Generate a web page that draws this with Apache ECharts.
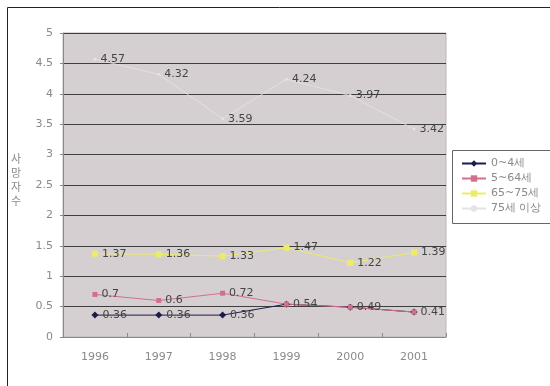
<!DOCTYPE html>
<html>
<head>
<meta charset="utf-8">
<script src="https://cdn.jsdelivr.net/npm/echarts@6/dist/echarts.min.js"></script>
<style>
  html, body { margin: 0; padding: 0; background: #fff; }
  #chart { width: 550px; height: 386px; }
</style>
</head>
<body>
<div id="chart"></div>
<script>
// Years on the category axis
const years = ['1996', '1997', '1998', '1999', '2000', '2001'];

// Death rate by age group
const age0to4 = [0.36, 0.36, 0.36, 0.54, 0.49, 0.41];
const age5to64 = [0.7, 0.6, 0.72, 0.54, 0.49, 0.41];
const age65to75 = [1.37, 1.36, 1.33, 1.47, 1.22, 1.39];
const age75plus = [4.57, 4.32, 3.59, 4.24, 3.97, 3.42];

const seriesNames = ['0~4세', '5~64세', '65~75세', '75세 이상'];
const yTicks = ['0', '0.5', '1', '1.5', '2', '2.5', '3', '3.5', '4', '4.5', '5'];

const labelStyle = {
  show: true,
  position: 'right',
  distance: 4,
  color: '#444',
  fontSize: 11,
  fontFamily: 'DejaVu Sans',
  formatter: p => String(p.value)
};

function lineSeries(name, data, color, symbol, size, width) {
  return {
    name: name,
    type: 'line',
    data: data,
    symbol: symbol,
    symbolSize: size,
    lineStyle: { color: color, width: width },
    itemStyle: { color: color },
    label: labelStyle,
    animation: false
  };
}

// Where the youngest group meets the 5~64 line, its value is already printed by that line
const youngest = lineSeries(seriesNames[0], age0to4, '#1c1c4c', 'diamond', 7, 1);
youngest.data = age0to4.map((v, i) => (v === age5to64[i] ? { value: v, label: { show: false } } : v));

const chart = echarts.init(document.getElementById('chart'));
chart.setOption({
  animation: false,
  grid: { left: 63, top: 33, width: 383, height: 304, show: true,
          backgroundColor: '#d6cfd2', borderColor: '#b8b4b6', borderWidth: 1 },
  xAxis: {
    type: 'category',
    data: years,
    boundaryGap: true,
    axisLine: { lineStyle: { color: '#8a8a8a' } },
    axisTick: { show: true, inside: true, length: 4, lineStyle: { color: '#8a8a8a' } },
    axisLabel: { color: '#8a8a8a', fontSize: 11, fontFamily: 'DejaVu Sans', margin: 15 }
  },
  yAxis: {
    type: 'value',
    min: 0, max: 5, interval: 0.5,
    axisLine: { show: true, lineStyle: { color: '#8a8a8a' } },
    axisTick: { show: true, length: 3, lineStyle: { color: '#8a8a8a' } },
    axisLabel: { color: '#8a8a8a', fontSize: 11, fontFamily: 'DejaVu Sans', margin: 10,
                 formatter: v => yTicks[Math.round(v * 2)] },
    splitLine: { lineStyle: { color: '#3e3e3e', width: 1 } }
  },
  legend: {
    orient: 'vertical',
    left: 456, top: 153,
    itemGap: 4,
    itemWidth: 24, itemHeight: 8,
    textStyle: { color: '#8a8a8a', fontSize: 11, fontFamily: 'DejaVu Sans' },
    data: seriesNames
  },
  series: [
    youngest,
    lineSeries(seriesNames[1], age5to64, '#d0708c', 'rect', 5, 1),
    lineSeries(seriesNames[2], age65to75, '#ecec6a', 'rect', 6, 1),
    lineSeries(seriesNames[3], age75plus, '#e6e2e8', 'circle', 3, 0.8)
  ],
  graphic: [
    { type: 'rect', shape: { x: 7.5, y: 7.5, width: 560, height: 400 },
      style: { fill: 'none', stroke: '#222', lineWidth: 1 }, silent: true },
    { type: 'rect', shape: { x: 452.5, y: 150.5, width: 110, height: 73 },
      style: { fill: 'none', stroke: '#666', lineWidth: 1 }, silent: true },
    { type: 'text', left: 11, top: 152,
      style: { text: '사\n망\n자\n수', fill: '#8a8a8a', fontSize: 11,
               fontFamily: 'Noto Sans CJK KR', lineHeight: 14 } }
  ]
});
</script>
</body>
</html>
